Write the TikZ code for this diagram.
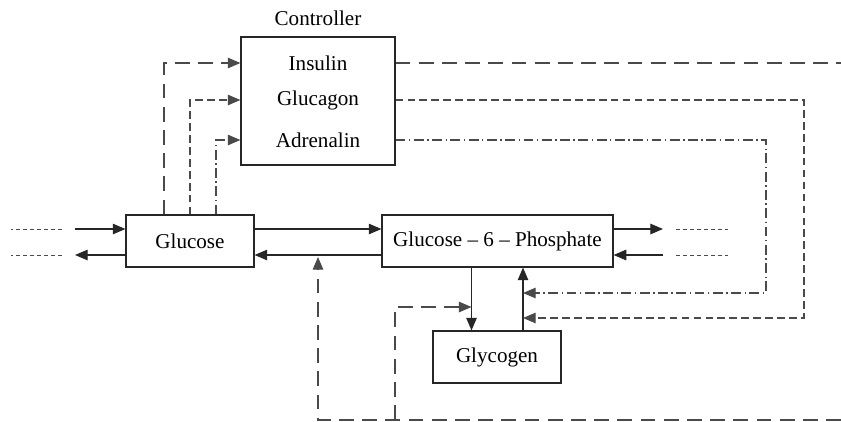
\documentclass[tikz,border=0pt]{standalone}
\usepackage{fontspec}
\setmainfont{Liberation Serif}
\usepackage{tikz}
\usetikzlibrary{arrows.meta,positioning,calc}
\definecolor{gkdark}{HTML}{262626}
\definecolor{gkgray}{HTML}{4A4A4A}

\begin{document}
\begin{tikzpicture}[x=0.025cm, y=-0.025cm,
    box/.style={draw=gkdark, line width=0.8pt, inner sep=0pt,
                minimum height=1.3cm, font=\fontsize{15}{18}\selectfont},
    lbl/.style={font=\fontsize{15}{18}\selectfont, inner sep=0pt},
    arr/.style={-{Triangle[length=9pt,width=7.5pt]}},
    flow/.style={arr, line width=0.8pt, color=gkdark},
    insline/.style={line width=0.8pt, color=gkgray, dash pattern=on 10.5pt off 6pt},
    glcline/.style={line width=0.8pt, color=gkgray, dash pattern=on 5.5pt off 3pt},
    adrline/.style={line width=0.8pt, color=gkgray, dash pattern=on 7pt off 2.5pt on 1pt off 2.5pt},
    stub/.style={line width=0.7pt, color=gkgray, dash pattern=on 3pt off 2pt}
]
  \useasboundingbox (0,0) rectangle (841,421);

  % Blocks
  \node[box, minimum width=3.85cm, minimum height=3.2cm] (ctrl) at (318,101) {};
  \node[lbl] (ctrllbl) at (318,18) {Controller};
  \node[lbl] (ins) at (318,63) {Insulin};
  \node[lbl] (glc) at (318,100) {Glucagon};
  \node[lbl] (adr) at (318,140) {Adrenalin};

  \node[box, minimum width=3.2cm] (glu) at (190,241) {Glucose};
  \node[box, minimum width=5.775cm] (g6p) at (497.5,241) {Glucose -- 6 -- Phosphate};
  \node[box, minimum width=3.2cm] (gly) at (497,357) {Glycogen};

  % Hormone signals from glucose to controller
  \draw[insline, arr] ($(glu.north)+(-26,0)$) |- (ctrl.west |- ins);
  \draw[glcline, arr] (glu.north) |- (ctrl.west |- glc);
  \draw[adrline, arr] ($(glu.north)+(26,0)$) |- (ctrl.west |- adr);

  % Glucose <-> G6P
  \draw[flow] ($(glu.east)+(0,-12)$) -- ($(g6p.west)+(0,-12)$);
  \draw[flow] ($(g6p.west)+(0,14)$) coordinate (back) -- ($(glu.east)+(0,14)$);

  % G6P <-> Glycogen
  \draw[flow] ($(g6p.south)+(-26,0)$) coordinate (dn) -- (dn |- gly.north);
  \draw[flow] ($(gly.north)+(26,0)$) coordinate (up) -- (up |- g6p.south);

  % Inputs and outputs
  \coordinate (inA) at (75,229);
  \coordinate (inB) at (75,255);
  \coordinate (outA) at (663,229);
  \coordinate (outB) at (663,255);
  \draw[flow] (inA) -- (glu.west |- inA);
  \draw[flow] (glu.west |- inB) -- (inB);
  \draw[flow] (g6p.east |- outA) -- (outA);
  \draw[flow] (outB) -- (g6p.east |- outB);
  \draw[stub] ($(inA)+(-13,0)$) -- ++(-51,0);
  \draw[stub] ($(inB)+(-13,0)$) -- ++(-51,0);
  \draw[stub] ($(outA)+(13,0)$) -- ++(52,0);
  \draw[stub] ($(outB)+(13,0)$) -- ++(52,0);

  % Controller outputs
  \coordinate (insR) at (841,63);
  \coordinate (glcR) at (804,318);
  \coordinate (adrR) at (766,293);
  \draw[insline] (ctrl.east |- ins) -- (insR);
  \draw[glcline, arr] (ctrl.east |- glc) -| (glcR) -- (up |- glcR);
  \draw[adrline, arr] (ctrl.east |- adr) -| (adrR) -- (up |- adrR);

  % Insulin feedback along the bottom
  \coordinate (fbR) at (841,420);
  \coordinate (fbL) at (318,420);
  \coordinate (fbM) at (395,420);
  \coordinate (fbT) at (395,307);
  \draw[insline, arr] (fbR) -- (fbL) -- ($(fbL |- back)+(0,2)$);
  \draw[insline, arr] (fbM) -- (fbT) -- (dn |- fbT);
\end{tikzpicture}
\end{document}
